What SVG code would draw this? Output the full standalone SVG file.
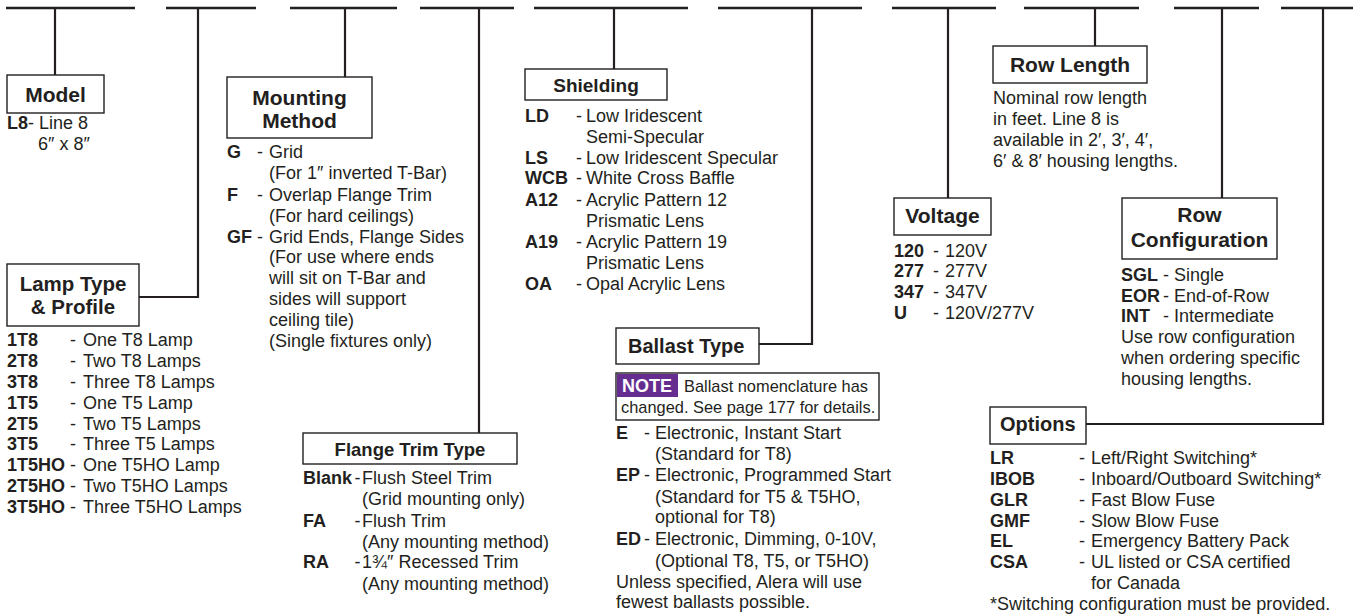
<svg xmlns="http://www.w3.org/2000/svg" width="1355" height="614" viewBox="0 0 1355 614">
<style>
text{font-family:"Liberation Sans",Arial,sans-serif;fill:#231f20;font-size:18px}
.b{font-weight:bold}
.h{font-weight:bold;font-size:21px}
.c{text-anchor:middle}
.box{fill:#fff;stroke:#231f20;stroke-width:1.4}
.ln{fill:none;stroke:#231f20;stroke-width:2.2}
.top{fill:none;stroke:#231f20;stroke-width:2.6}
.note{font-size:16.4px}
</style>
<rect x="0" y="0" width="1355" height="614" fill="#fff"/>
<g id="connectors">
<path class="top" d="M6 8H135M166 8H256M290 8H397M420 8H514M534 8H688M718 8H862M892 8H996M1024 8H1139M1174 8H1259M1281 8H1353"/>
<path class="ln" d="M55 8V75M198 8V297H139M345 8V77M479 8V433M614 8V69M812 8V344H759M948 8V198M1095 8V46M1222 8V198M1323 8V424H1086"/>
</g>
<g id="model">
<rect class="box" x="7" y="75" width="97" height="38"/>
<text class="h c" x="55.5" y="102">Model</text>
<text class="b" x="7" y="129">L8</text><text x="28" y="129">- Line 8</text>
<text x="38" y="149.5">6″ x 8″</text>
</g>
<g id="lamp-type">
<rect class="box" x="7" y="264" width="132" height="62"/>
<text class="h c" x="73" y="291" style="font-size:20.5px">Lamp Type</text>
<text class="h c" x="73" y="314" style="font-size:20.5px">&amp; Profile</text>
<text class="b" x="7" y="346">1T8</text><text x="70" y="346">-</text><text x="83" y="346">One T8 Lamp</text>
<text class="b" x="7" y="367">2T8</text><text x="70" y="367">-</text><text x="83" y="367">Two T8 Lamps</text>
<text class="b" x="7" y="388">3T8</text><text x="70" y="388">-</text><text x="83" y="388">Three T8 Lamps</text>
<text class="b" x="7" y="409">1T5</text><text x="70" y="409">-</text><text x="83" y="409">One T5 Lamp</text>
<text class="b" x="7" y="430">2T5</text><text x="70" y="430">-</text><text x="83" y="430">Two T5 Lamps</text>
<text class="b" x="7" y="450">3T5</text><text x="70" y="450">-</text><text x="83" y="450">Three T5 Lamps</text>
<text class="b" x="7" y="471">1T5HO</text><text x="70" y="471">-</text><text x="83" y="471">One T5HO Lamp</text>
<text class="b" x="7" y="492">2T5HO</text><text x="70" y="492">-</text><text x="83" y="492">Two T5HO Lamps</text>
<text class="b" x="7" y="513">3T5HO</text><text x="70" y="513">-</text><text x="83" y="513">Three T5HO Lamps</text>
</g>
<g id="mounting-method">
<rect class="box" x="227" y="77" width="145" height="61"/>
<text class="h c" x="299.5" y="105">Mounting</text>
<text class="h c" x="299.5" y="128">Method</text>
<text class="b" x="227" y="158">G</text><text x="257" y="158">-</text><text x="269" y="158">Grid</text>
<text x="269" y="179">(For 1″ inverted T-Bar)</text>
<text class="b" x="227" y="201">F</text><text x="257" y="201">-</text><text x="269" y="201">Overlap Flange Trim</text>
<text x="269" y="222">(For hard ceilings)</text>
<text class="b" x="227" y="243">GF</text><text x="257" y="243">-</text><text x="269" y="243">Grid Ends, Flange Sides</text>
<text x="269" y="263">(For use where ends</text>
<text x="269" y="284">will sit on T-Bar and</text>
<text x="269" y="305">sides will support</text>
<text x="269" y="326">ceiling tile)</text>
<text x="269" y="347">(Single fixtures only)</text>
</g>
<g id="flange-trim-type">
<rect class="box" x="303" y="433" width="214" height="31"/>
<text class="h c" x="410" y="456" style="font-size:18.5px">Flange Trim Type</text>
<text class="b" x="303" y="484">Blank</text><text x="354.5" y="484">-</text><text x="362" y="484">Flush Steel Trim</text>
<text x="362" y="505">(Grid mounting only)</text>
<text class="b" x="303" y="527">FA</text><text x="354.5" y="527">-</text><text x="362" y="527">Flush Trim</text>
<text x="362" y="548">(Any mounting method)</text>
<text class="b" x="303" y="568">RA</text><text x="354.5" y="568">-</text><text x="362" y="568">1¾″ Recessed Trim</text>
<text x="362" y="590">(Any mounting method)</text>
</g>
<g id="shielding">
<rect class="box" x="525" y="69" width="142" height="31"/>
<text class="h c" x="596" y="92" style="font-size:19px">Shielding</text>
<text class="b" x="525" y="122">LD</text><text x="576" y="122">-</text><text x="586" y="122">Low Iridescent</text>
<text x="586" y="143">Semi-Specular</text>
<text class="b" x="525" y="164">LS</text><text x="576" y="164">-</text><text x="586" y="164">Low Iridescent Specular</text>
<text class="b" x="525" y="184">WCB</text><text x="576" y="184">-</text><text x="586" y="184">White Cross Baffle</text>
<text class="b" x="525" y="205.5">A12</text><text x="576" y="205.5">-</text><text x="586" y="205.5">Acrylic Pattern 12</text>
<text x="586" y="226.5">Prismatic Lens</text>
<text class="b" x="525" y="247.5">A19</text><text x="576" y="247.5">-</text><text x="586" y="247.5">Acrylic Pattern 19</text>
<text x="586" y="268.5">Prismatic Lens</text>
<text class="b" x="525" y="290">OA</text><text x="576" y="290">-</text><text x="586" y="290">Opal Acrylic Lens</text>
</g>
<g id="ballast-type">
<rect class="box" x="616" y="328" width="143" height="36"/>
<text class="h" x="628" y="353" style="font-size:20px">Ballast Type</text>
<rect class="box" x="616" y="373" width="263" height="47"/>
<rect x="617" y="374" width="61" height="23" fill="#662d91"/>
<text class="b" x="622" y="392" style="fill:#fff">NOTE</text>
<text class="note" x="684" y="392">Ballast nomenclature has</text>
<text class="note" x="621" y="413">changed. See page 177 for details.</text>
<text class="b" x="616" y="439">E</text><text x="644" y="439">-</text><text x="655" y="439">Electronic, Instant Start</text>
<text x="655" y="460">(Standard for T8)</text>
<text class="b" x="616" y="481">EP</text><text x="644" y="481">-</text><text x="655" y="481">Electronic, Programmed Start</text>
<text x="655" y="502.5">(Standard for T5 &amp; T5HO,</text>
<text x="655" y="523">optional for T8)</text>
<text class="b" x="616" y="545">ED</text><text x="644" y="545">-</text><text x="655" y="545">Electronic, Dimming, 0-10V,</text>
<text x="655" y="567">(Optional T8, T5, or T5HO)</text>
<text x="616" y="588">Unless specified, Alera will use</text>
<text x="616" y="608">fewest ballasts possible.</text>
</g>
<g id="voltage">
<rect class="box" x="894" y="198" width="97" height="37"/>
<text class="h c" x="942.5" y="223">Voltage</text>
<text class="b" x="894" y="257">120</text><text x="933" y="257">-</text><text x="945" y="257">120V</text>
<text class="b" x="894" y="277">277</text><text x="933" y="277">-</text><text x="945" y="277">277V</text>
<text class="b" x="894" y="298">347</text><text x="933" y="298">-</text><text x="945" y="298">347V</text>
<text class="b" x="894" y="319">U</text><text x="933" y="319">-</text><text x="945" y="319">120V/277V</text>
</g>
<g id="row-length">
<rect class="box" x="993" y="46" width="154" height="37"/>
<text class="h c" x="1070" y="72">Row Length</text>
<text x="993" y="104">Nominal row length</text>
<text x="993" y="125">in feet. Line 8 is</text>
<text x="993" y="146">available in 2′, 3′, 4′,</text>
<text x="993" y="167">6′ &amp; 8′ housing lengths.</text>
</g>
<g id="row-configuration">
<rect class="box" x="1122" y="198" width="155" height="61"/>
<text class="h c" x="1199.5" y="222">Row</text>
<text class="h c" x="1199.5" y="247">Configuration</text>
<text class="b" x="1121" y="281">SGL</text><text x="1163" y="281">-</text><text x="1174" y="281">Single</text>
<text class="b" x="1121" y="302">EOR</text><text x="1163" y="302">-</text><text x="1174" y="302">End-of-Row</text>
<text class="b" x="1121" y="322">INT</text><text x="1163" y="322">-</text><text x="1174" y="322">Intermediate</text>
<text x="1121" y="343">Use row configuration</text>
<text x="1121" y="364">when ordering specific</text>
<text x="1121" y="385">housing lengths.</text>
</g>
<g id="options">
<rect class="box" x="990" y="407" width="96" height="37"/>
<text class="h" x="1000" y="431" style="font-size:20px">Options</text>
<text class="b" x="990" y="464">LR</text><text x="1079" y="464">-</text><text x="1091" y="464">Left/Right Switching*</text>
<text class="b" x="990" y="485">IBOB</text><text x="1079" y="485">-</text><text x="1091" y="485">Inboard/Outboard Switching*</text>
<text class="b" x="990" y="506">GLR</text><text x="1079" y="506">-</text><text x="1091" y="506">Fast Blow Fuse</text>
<text class="b" x="990" y="527">GMF</text><text x="1079" y="527">-</text><text x="1091" y="527">Slow Blow Fuse</text>
<text class="b" x="990" y="547">EL</text><text x="1079" y="547">-</text><text x="1091" y="547">Emergency Battery Pack</text>
<text class="b" x="990" y="568">CSA</text><text x="1079" y="568">-</text><text x="1091" y="568">UL listed or CSA certified</text>
<text x="1091" y="589">for Canada</text>
<text x="990" y="610">*Switching configuration must be provided.</text>
</g>
</svg>
